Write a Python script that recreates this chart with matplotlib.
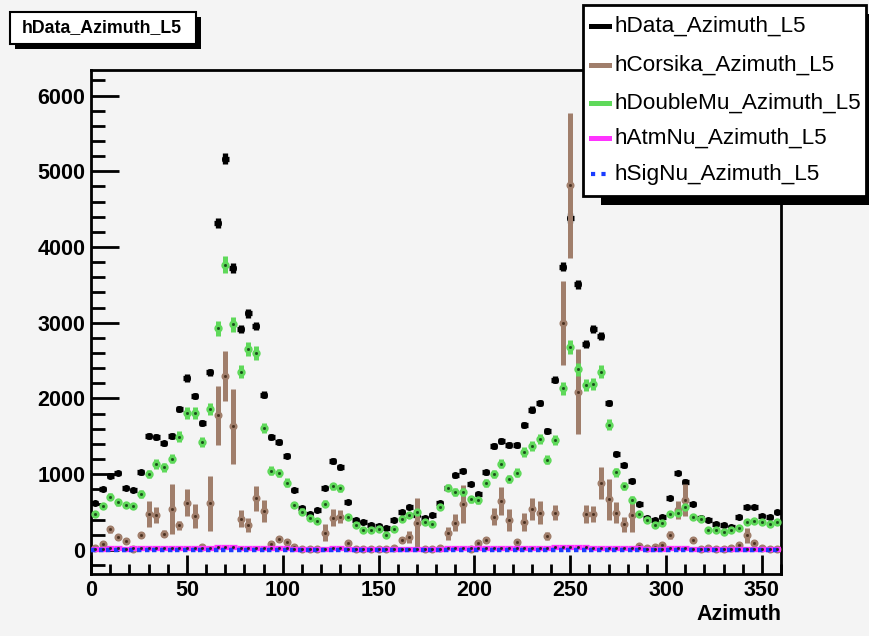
import numpy as np
import matplotlib
matplotlib.use("Agg")
import matplotlib.pyplot as plt
from matplotlib.patches import Rectangle
from matplotlib.lines import Line2D

plt.rcParams['font.family'] = ['Liberation Sans', 'DejaVu Sans']

# ---- data (90 bins of 4 degrees) ----
bin_edges_lo = 0.0
bin_width = 4.0
n_bins = 90

data_vals = [625, 803, 979, 1015, 816, 794, 1023, 1504, 1495, 1406,
             1508, 1861, 2271, 2033, 1671, 2346, 4317, 5168, 3722, 2920,
             3122, 2960, 2047, 1495, 1425, 1244, 790, 552, 480, 529,
             816, 1173, 1094, 635, 397, 375, 335, 313, 295, 397,
             507, 573, 463, 427, 459, 622, 824, 983, 1045, 869,
             732, 1023, 1372, 1442, 1389, 1385, 1650, 1852, 1941, 1574,
             2249, 3740, 4383, 3510, 2721, 2920, 2822, 1941, 1270, 1115,
             913, 605, 427, 397, 437, 679, 1015, 900, 609, 423,
             397, 348, 323, 304, 437, 565, 565, 450, 437, 499]

corsika_vals = [25, 84, 270, 168, 119, 10, 196, 472, 459, 216,
                538, 327, 626, 450, 35, 618, 1777, 2298, 1631, 414,
                331, 679, 516, 84, 150, 104, 42, 10, 10, 10,
                229, 427, 437, 89, 10, 15, 10, 10, 15, 20,
                132, 168, 353, 15, 15, 20, 220, 361, 605, 15,
                89, 132, 437, 648, 397, 110, 370, 542, 494, 185,
                494, 2994, 4816, 2090, 472, 472, 882, 670, 494, 340,
                459, 53, 20, 40, 62, 198, 529, 657, 132, 10,
                20, 10, 10, 30, 62, 194, 97, 20, 10, 10]

corsika_errs = [15, 30, 50, 40, 35, 10, 40, 168, 110, 45,
                326, 60, 176, 161, 15, 364, 392, 326, 496, 110,
                93, 165, 148, 30, 40, 35, 20, 10, 10, 10,
                110, 115, 84, 30, 10, 10, 10, 10, 10, 10,
                40, 79, 331, 10, 10, 10, 84, 117, 247, 10,
                30, 40, 110, 187, 148, 40, 121, 148, 148, 50,
                101, 551, 959, 558, 121, 106, 214, 269, 143, 99,
                220, 20, 10, 20, 25, 50, 121, 209, 40, 10,
                10, 10, 10, 15, 25, 99, 35, 10, 10, 10]

doublemu_vals = [472, 582, 705, 631, 595, 582, 741, 1001, 1134, 1094,
                 1204, 1495, 1808, 1808, 1429, 1865, 2928, 3767, 2981, 2355,
                 2655, 2606, 1610, 1045, 1015, 890, 595, 507, 419, 380,
                 609, 838, 811, 437, 335, 260, 269, 274, 198, 274,
                 414, 467, 503, 375, 348, 565, 824, 767, 767, 666,
                 657, 882, 1001, 1138, 939, 1019, 1297, 1367, 1465, 1193,
                 1455, 2134, 2677, 2385, 2179, 2192, 2355, 1650, 1023, 847,
                 662, 472, 397, 331, 353, 480, 494, 565, 437, 414,
                 260, 260, 242, 260, 287, 375, 384, 370, 348, 370]

atmnu_vals = [18, 18, 20, 20, 18, 20, 20, 22, 22, 22,
              24, 24, 26, 28, 28, 30, 36, 38, 34, 30,
              28, 28, 26, 22, 22, 20, 18, 18, 16, 16,
              18, 20, 20, 18, 16, 16, 16, 16, 16, 16,
              18, 18, 18, 18, 18, 18, 20, 20, 22, 22,
              22, 24, 24, 26, 26, 26, 28, 28, 30, 30,
              32, 36, 40, 36, 32, 30, 28, 26, 24, 22,
              20, 20, 18, 18, 18, 20, 22, 20, 18, 18,
              16, 16, 16, 16, 16, 18, 18, 18, 18, 18]

signu_vals = [4] * 90

x_ticks = [0, 50, 100, 150, 200, 250, 300, 350]
y_ticks = [0, 1000, 2000, 3000, 4000, 5000, 6000]

legend_labels = ["hData_Azimuth_L5", "hCorsika_Azimuth_L5",
                 "hDoubleMu_Azimuth_L5", "hAtmNu_Azimuth_L5",
                 "hSigNu_Azimuth_L5"]
title_text = "hData_Azimuth_L5"
x_label = "Azimuth"

# ---- colours ----
c_data = "black"
c_cors = "#a07e6b"
c_dmu = "#5fd95a"
c_atm = "#ff33ff"
c_sig = "#1a3cff"
bg = "#f4f4f4"

W, H = 869, 636
fig = plt.figure(figsize=(W / 100, H / 100), dpi=100, facecolor=bg)

def fx(px):
    return px / W

def fy(py):
    return 1 - py / H

ax_l, ax_r, ax_t, ax_b = 91, 781, 70, 574
ax = fig.add_axes([fx(ax_l), fy(ax_b), fx(ax_r) - fx(ax_l), fy(ax_t) - fy(ax_b)])
ax.set_facecolor(bg)

centers = bin_edges_lo + bin_width * (np.arange(n_bins) + 0.5)
data = np.array(data_vals, float)
cors = np.array(corsika_vals, float)
cors_e = np.array(corsika_errs, float)
dmu = np.array(doublemu_vals, float)
atm = np.array(atmnu_vals, float)
sig = np.array(signu_vals, float)

# Data: thick horizontal bin bars + Poisson vertical bars
ax.errorbar(centers, data, xerr=1.9, yerr=np.sqrt(data), fmt='none',
            ecolor=c_data, elinewidth=3.8, capsize=0, zorder=3)
ax.plot(centers, data, 'o', color=c_data, ms=4.0, zorder=3)

# Corsika
ax.errorbar(centers, cors, yerr=cors_e, fmt='none', ecolor=c_cors,
            elinewidth=3.6, capsize=0, zorder=4)
ax.plot(centers, cors, 'o', color=c_cors, ms=4.8, zorder=4)
ax.plot(centers, cors, 's', color='#4a3020', ms=1.0, zorder=4.5)

# DoubleMu
ax.errorbar(centers, dmu, yerr=1.8 * np.sqrt(dmu), fmt='none', ecolor=c_dmu,
            elinewidth=3.6, capsize=0, zorder=5)
ax.plot(centers, dmu, 'o', color=c_dmu, ms=5.0, zorder=5)
ax.plot(centers, dmu, 's', color='#1a4a1a', ms=1.0, zorder=5.5)

# AtmNu
ax.errorbar(centers, atm, xerr=2.0, fmt='none', ecolor=c_atm,
            elinewidth=3.8, capsize=0, zorder=6)
# SigNu
ax.hlines(sig, centers - 2.0, centers + 2.0, colors=c_sig, linewidth=3.2,
          linestyles=(0, (1, 1.3)), zorder=7)
ax.plot(centers, atm, 's', color='#222222', ms=1.0, zorder=8)

ax.set_xlim(0, 360)
ax.set_ylim(-318, 6337)
ax.set_xticks(x_ticks)
ax.set_xticks(np.arange(0, 361, 10), minor=True)
ax.set_yticks(y_ticks)
ax.set_yticks(np.arange(-200, 6337, 200), minor=True)
ax.tick_params(axis='both', which='major', direction='in', length=20, width=2,
               labelsize=15.5, top=False, right=False, pad=4)
ax.tick_params(axis='both', which='minor', direction='in', length=10, width=2,
               top=False, right=False)
ax.tick_params(axis='x', which='major', length=14)
ax.tick_params(axis='x', which='minor', length=7)
for lab in ax.get_xticklabels() + ax.get_yticklabels():
    lab.set_fontweight('bold')
for s in ax.spines.values():
    s.set_linewidth(2)

fig.text(fx(781), fy(615), x_label, ha='right', va='center',
         fontsize=15.5, fontweight='bold')

# Title box with shadow
fig.patches.append(Rectangle((fx(15), fy(49)), fx(201) - fx(15), fy(17) - fy(49),
                             transform=fig.transFigure, facecolor='black',
                             edgecolor='none', zorder=1))
fig.patches.append(Rectangle((fx(10), fy(44)), fx(196) - fx(10), fy(12) - fy(44),
                             transform=fig.transFigure, facecolor='white',
                             edgecolor='black', linewidth=1.5, zorder=2))
fig.text(fx(102), fy(28), title_text, ha='center', va='center', fontsize=12.8,
         fontweight='bold', zorder=3)

# Legend box with shadow
lg_l, lg_r, lg_t, lg_b = 583, 866, 5, 196
fig.patches.append(Rectangle((fx(lg_l + 18), fy(lg_b + 9)), fx(W) - fx(lg_l + 18),
                             fy(lg_t + 9) - fy(lg_b + 9),
                             transform=fig.transFigure, facecolor='black',
                             edgecolor='none', zorder=10))
fig.patches.append(Rectangle((fx(lg_l), fy(lg_b)), fx(lg_r) - fx(lg_l),
                             fy(lg_t) - fy(lg_b),
                             transform=fig.transFigure, facecolor='white',
                             edgecolor='black', linewidth=2, zorder=11))
entry_y = [26, 65, 103, 138, 174]
styles = [dict(color=c_data, lw=3.6, ls='-'),
          dict(color=c_cors, lw=3.6, ls='-'),
          dict(color=c_dmu, lw=3.6, ls='-'),
          dict(color=c_atm, lw=3.6, ls='-'),
          dict(color=c_sig, lw=3.0, ls=(0, (1, 1.5)))]
for yy, lab, st in zip(entry_y, legend_labels, styles):
    fig.add_artist(Line2D([fx(591), fx(609)], [fy(yy), fy(yy)],
                          transform=fig.transFigure, zorder=12, **st))
    fig.text(fx(614), fy(yy), lab, ha='left', va='center', fontsize=16.2,
             zorder=12)

fig.savefig("out.png", dpi=100, facecolor=bg)
